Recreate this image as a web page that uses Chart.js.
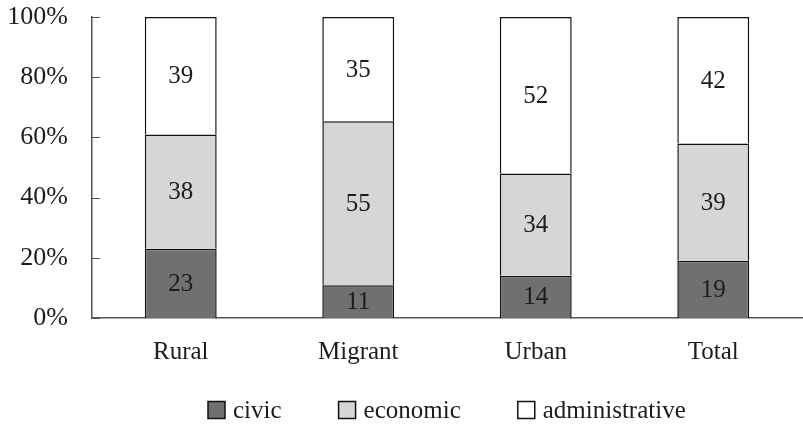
<!DOCTYPE html>
<html>
<head>
<meta charset="utf-8">
<script src="https://cdn.jsdelivr.net/npm/chart.js@4"></script>
<style>
  html, body { margin: 0; padding: 0; background: #fff; }
  #wrap { width: 803px; height: 424px; }
</style>
</head>
<body>
<div id="wrap"><canvas id="chart" width="803" height="424"></canvas></div>
<script>
const categories = ['Rural', 'Migrant', 'Urban', 'Total'];
const civic = [23, 11, 14, 19];
const economic = [38, 55, 34, 39];
const administrative = [39, 35, 52, 42];
const yTicks = [0, 20, 40, 60, 80, 100];

const FONT = "'Liberation Serif', 'Times New Roman', serif";
const TEXT = '#1c1c1c';

// 100% stacked: share of each column total
const totals = categories.map((_, i) => civic[i] + economic[i] + administrative[i]);
const pct = arr => arr.map((v, i) => v / totals[i] * 100);

const segmentLabels = {
  id: 'segmentLabels',
  afterDatasetsDraw(chart) {
    const ctx = chart.ctx;
    ctx.save();
    ctx.font = '25px ' + FONT;
    ctx.fillStyle = TEXT;
    ctx.textAlign = 'center';
    ctx.textBaseline = 'middle';
    chart.data.datasets.forEach((ds, di) => {
      chart.getDatasetMeta(di).data.forEach((bar, i) => {
        const y = (bar.y + bar.base) / 2;
        ctx.fillText(String(ds.raw[i]), bar.x, y + 1);
      });
    });
    ctx.restore();
  }
};

// Excel-style inward tick marks on the value axis
const innerTicks = {
  id: 'innerTicks',
  afterDraw(chart) {
    const ctx = chart.ctx;
    const y = chart.scales.y;
    const left = chart.chartArea.left;
    ctx.save();
    ctx.strokeStyle = '#555';
    ctx.lineWidth = 1;
    y.ticks.forEach(t => {
      const py = Math.round(y.getPixelForValue(t.value)) + 0.5;
      ctx.beginPath();
      ctx.moveTo(left, py);
      ctx.lineTo(left + 8, py);
      ctx.stroke();
    });
    ctx.restore();
  }
};

// legend row drawn under the axis, like the Excel original
const bottomLegend = {
  id: 'bottomLegend',
  afterDraw(chart) {
    const ctx = chart.ctx;
    const box = 17, gap = 8, spacing = 57, cy = 410;
    const centerX = (chart.chartArea.left + chart.chartArea.right) / 2;
    ctx.save();
    ctx.font = '25px ' + FONT;
    const items = chart.data.datasets.map(ds => ({ ds, w: ctx.measureText(ds.label).width }));
    const total = items.reduce((s, it) => s + box + gap + it.w, 0) + spacing * (items.length - 1);
    let x = Math.round(centerX - total / 2);
    items.forEach(it => {
      ctx.fillStyle = it.ds.backgroundColor;
      ctx.fillRect(x, cy - box / 2, box, box);
      ctx.strokeStyle = '#111';
      ctx.lineWidth = 1.5;
      ctx.strokeRect(x, cy - box / 2, box, box);
      ctx.fillStyle = TEXT;
      ctx.textAlign = 'left';
      ctx.textBaseline = 'middle';
      ctx.fillText(it.ds.label, x + box + gap, cy + 1);
      x += box + gap + it.w + spacing;
    });
    ctx.restore();
  }
};

// bottom edge skipped so stacked segments share a single dividing line
const barStyle = { borderColor: '#111', borderWidth: 1.5, borderSkipped: 'start', barPercentage: 0.405, categoryPercentage: 1 };

new Chart(document.getElementById('chart'), {
  type: 'bar',
  data: {
    labels: categories,
    datasets: [
      Object.assign({ label: 'civic', data: pct(civic), raw: civic, backgroundColor: '#707070' }, barStyle),
      Object.assign({ label: 'economic', data: pct(economic), raw: economic, backgroundColor: '#d6d6d6' }, barStyle),
      Object.assign({ label: 'administrative', data: pct(administrative), raw: administrative, backgroundColor: '#ffffff' }, barStyle)
    ]
  },
  options: {
    responsive: false,
    animation: false,
    layout: { padding: { top: 17, right: 1, left: 0, bottom: 38 } },
    plugins: {
      tooltip: { enabled: false },
      legend: { display: false }
    },
    scales: {
      x: {
        stacked: true,
        grid: { display: false, drawTicks: false },
        border: { color: '#555', width: 1.5 },
        ticks: { font: { family: FONT, size: 25 }, color: TEXT, padding: 19 },
        afterFit(scale) { scale.paddingLeft = 0; scale.paddingRight = 0; }
      },
      y: {
        stacked: true,
        min: 0,
        max: 100,
        afterBuildTicks(scale) { scale.ticks = yTicks.map(v => ({ value: v })); },
        afterFit(scale) { scale.width = 92; scale.paddingTop = 0; scale.paddingBottom = 0; },
        grid: { display: false, drawTicks: false },
        border: { color: '#555', width: 1.5 },
        ticks: {
          font: { family: FONT, size: 26 },
          color: TEXT,
          padding: 24,
          callback: v => v + '%'
        }
      }
    }
  },
  plugins: [segmentLabels, innerTicks, bottomLegend]
});
</script>
</body>
</html>
